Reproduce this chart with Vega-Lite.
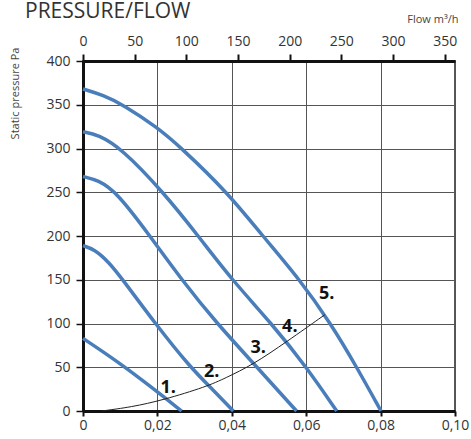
{
  "$schema": "https://vega.github.io/schema/vega-lite/v6.json",
  "width": 372,
  "height": 350,
  "autosize": {"type": "none"},
  "padding": {"left": 83, "top": 61, "right": 16, "bottom": 28},
  "background": "white",
  "config": {
    "font": "Open Sans",
    "view": {"stroke": "#222", "strokeWidth": 1.5}
  },
  "title": {
    "text": "PRESSURE/FLOW",
    "anchor": "start",
    "frame": "group",
    "fontSize": 21,
    "fontWeight": "normal",
    "color": "#333",
    "baseline": "alphabetic",
    "dx": -58,
    "dy": 30
  },
  "datasets": {
    "curves": [
      {"curve": 1, "flow": 0, "pressure": 83},
      {"curve": 1, "flow": 0.006, "pressure": 66},
      {"curve": 1, "flow": 0.0113, "pressure": 50},
      {"curve": 1, "flow": 0.016, "pressure": 35},
      {"curve": 1, "flow": 0.02, "pressure": 22},
      {"curve": 1, "flow": 0.0265, "pressure": 0},
      {"curve": 2, "flow": 0, "pressure": 189},
      {"curve": 2, "flow": 0.003, "pressure": 185},
      {"curve": 2, "flow": 0.007, "pressure": 170},
      {"curve": 2, "flow": 0.0107, "pressure": 150},
      {"curve": 2, "flow": 0.0194, "pressure": 100},
      {"curve": 2, "flow": 0.0288, "pressure": 50},
      {"curve": 2, "flow": 0.035, "pressure": 24},
      {"curve": 2, "flow": 0.0404, "pressure": 0},
      {"curve": 3, "flow": 0, "pressure": 268},
      {"curve": 3, "flow": 0.004, "pressure": 264},
      {"curve": 3, "flow": 0.0091, "pressure": 250},
      {"curve": 3, "flow": 0.018, "pressure": 200},
      {"curve": 3, "flow": 0.0265, "pressure": 150},
      {"curve": 3, "flow": 0.036, "pressure": 100},
      {"curve": 3, "flow": 0.0468, "pressure": 50},
      {"curve": 3, "flow": 0.0574, "pressure": 0},
      {"curve": 4, "flow": 0, "pressure": 319},
      {"curve": 4, "flow": 0.004, "pressure": 316},
      {"curve": 4, "flow": 0.0104, "pressure": 300},
      {"curve": 4, "flow": 0.0216, "pressure": 250},
      {"curve": 4, "flow": 0.031, "pressure": 200},
      {"curve": 4, "flow": 0.04, "pressure": 150},
      {"curve": 4, "flow": 0.0507, "pressure": 100},
      {"curve": 4, "flow": 0.0601, "pressure": 50},
      {"curve": 4, "flow": 0.0682, "pressure": 0},
      {"curve": 5, "flow": 0, "pressure": 368},
      {"curve": 5, "flow": 0.0054, "pressure": 361},
      {"curve": 5, "flow": 0.0108, "pressure": 350},
      {"curve": 5, "flow": 0.02, "pressure": 324},
      {"curve": 5, "flow": 0.0261, "pressure": 302},
      {"curve": 5, "flow": 0.0388, "pressure": 250},
      {"curve": 5, "flow": 0.0483, "pressure": 200},
      {"curve": 5, "flow": 0.0583, "pressure": 150},
      {"curve": 5, "flow": 0.0666, "pressure": 100},
      {"curve": 5, "flow": 0.0736, "pressure": 50},
      {"curve": 5, "flow": 0.0801, "pressure": 0}
    ],
    "system": [
      {"flow": 0.005, "pressure": 0},
      {"flow": 0.013, "pressure": 4.5},
      {"flow": 0.0215, "pressure": 12.5},
      {"flow": 0.0333, "pressure": 28},
      {"flow": 0.0382, "pressure": 37.5},
      {"flow": 0.0457, "pressure": 53},
      {"flow": 0.0547, "pressure": 79},
      {"flow": 0.065, "pressure": 110}
    ],
    "labels": [
      {"label": "1.", "flow": 0.0229, "pressure": 26},
      {"label": "2.", "flow": 0.0346, "pressure": 45},
      {"label": "3.", "flow": 0.0471, "pressure": 72},
      {"label": "4.", "flow": 0.0556, "pressure": 96},
      {"label": "5.", "flow": 0.0655, "pressure": 134}
    ],
    "topaxis": [{"q": 0}, {"q": 360}]
  },
  "layer": [
    {
      "layer": [
        {
          "data": {"name": "curves"},
          "mark": {"type": "line", "interpolate": "basis", "stroke": "#4a7ebb", "strokeWidth": 3.5},
          "encoding": {
            "x": {
              "field": "flow", "type": "quantitative",
              "scale": {"domain": [0, 0.1], "nice": false},
              "axis": {
                "values": [0, 0.02, 0.04, 0.06, 0.08, 0.1],
                "labelExpr": "datum.value == 0 ? '0' : replace(format(datum.value, '.2f'), '.', ',')",
                "title": null,
                "grid": true, "gridColor": "#555", "gridWidth": 1,
                "domainColor": "#111", "domainWidth": 3,
                "tickColor": "#111", "tickWidth": 2, "tickSize": 5,
                "labelFontSize": 14, "labelColor": "#333", "labelPadding": 2,
                "labelFlush": false, "labelOverlap": false
              }
            },
            "y": {
              "field": "pressure", "type": "quantitative",
              "scale": {"domain": [0, 400], "nice": false},
              "axis": {
                "values": [0, 50, 100, 150, 200, 250, 300, 350, 400],
                "title": "Static pressure Pa",
                "titleFontSize": 11, "titleFontWeight": "normal", "titleColor": "#444",
                "titleAngle": 270, "titleX": -68, "titleY": 32,
                "titleAlign": "center", "titleBaseline": "middle",
                "grid": true, "gridColor": "#555", "gridWidth": 1,
                "domainColor": "#111", "domainWidth": 3,
                "tickColor": "#111", "tickWidth": 1.5, "tickSize": 7,
                "labelFontSize": 14, "labelColor": "#333", "labelPadding": 6,
                "labelFlush": false, "labelOverlap": false
              }
            },
            "detail": {"field": "curve", "type": "nominal"}
          }
        },
        {
          "data": {"name": "system"},
          "mark": {"type": "line", "interpolate": "basis", "stroke": "#222", "strokeWidth": 1},
          "encoding": {
            "x": {"field": "flow", "type": "quantitative"},
            "y": {"field": "pressure", "type": "quantitative"}
          }
        },
        {
          "data": {"name": "labels"},
          "mark": {"type": "text", "fontWeight": "bold", "fontSize": 18, "color": "#111", "align": "center", "baseline": "middle"},
          "encoding": {
            "x": {"field": "flow", "type": "quantitative"},
            "y": {"field": "pressure", "type": "quantitative"},
            "text": {"field": "label"}
          }
        }
      ]
    },
    {
      "data": {"name": "topaxis"},
      "mark": {"type": "point", "opacity": 0},
      "encoding": {
        "x": {
          "field": "q", "type": "quantitative",
          "scale": {"domain": [0, 360], "nice": false},
          "axis": {
            "orient": "top",
            "values": [0, 50, 100, 150, 200, 250, 300, 350],
            "title": "Flow m³/h",
            "titleFontSize": 11, "titleFontWeight": "normal", "titleColor": "#444",
            "titleX": 375, "titleY": -39, "titleAlign": "right", "titleBaseline": "alphabetic",
            "grid": false,
            "domainColor": "#111", "domainWidth": 3,
            "tickColor": "#111", "tickWidth": 2, "tickSize": 7,
            "labelFontSize": 14, "labelColor": "#333", "labelPadding": 6,
            "labelFlush": false, "labelOverlap": false
          }
        }
      }
    }
  ],
  "resolve": {"scale": {"x": "independent"}, "axis": {"x": "independent"}}
}
